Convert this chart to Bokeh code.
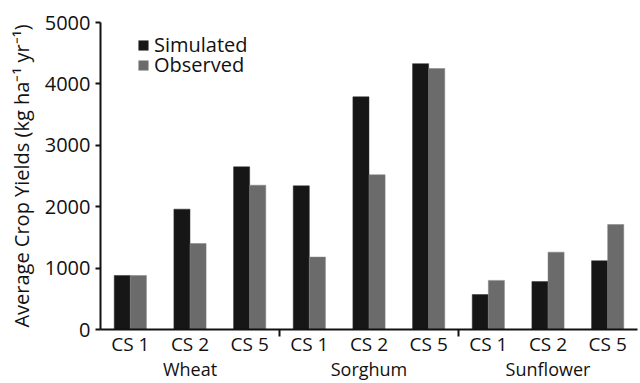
from bokeh.plotting import figure
from bokeh.models import Range1d, FixedTicker, LinearAxis, ColumnDataSource, Legend, LegendItem
from bokeh.transform import dodge
from bokeh.embed import file_html
from bokeh.resources import INLINE

crops = ["Wheat", "Sorghum", "Sunflower"]
systems = ["CS 1", "CS 2", "CS 5"]
simulated = [880, 1960, 2650, 2340, 3790, 4330, 570, 780, 1120]
observed = [880, 1400, 2350, 1180, 2520, 4250, 800, 1260, 1710]
y_ticks = [0, 1000, 2000, 3000, 4000, 5000]

labels = [s for c in crops for s in systems]
pos = [i + 0.5 for i in range(len(labels))]
group_pos = [i * len(systems) + len(systems) / 2 for i in range(len(crops))]
group_sep = [i * len(systems) for i in range(1, len(crops))]

src = ColumnDataSource(dict(x=pos, sim=simulated, obs=observed))

FONT = "Open Sans"
p = figure(width=640, height=383, output_backend="svg", toolbar_location=None,
           x_range=Range1d(0, len(labels)), y_range=Range1d(0, 5000),
           min_border_left=100, min_border_right=3, min_border_top=22, min_border_bottom=54,
           x_axis_location=None)
p.outline_line_color = None
p.grid.grid_line_color = None
p.background_fill_color = "white"
p.border_fill_color = "white"

r1 = p.vbar(x=dodge("x", -0.135, range=p.x_range), top="sim", width=0.27, source=src,
            fill_color="#161616", line_color="#303030", line_width=0.5)
r2 = p.vbar(x=dodge("x", 0.135, range=p.x_range), top="obs", width=0.27, source=src,
            fill_color="#6b6b6b", line_color="#858585", line_width=0.5)

# y axis
ya = p.yaxis[0]
ya.ticker = FixedTicker(ticks=y_ticks)
ya.axis_line_width = 2
ya.axis_line_color = "#111111"
ya.major_tick_line_width = 2
ya.major_tick_line_color = "#111111"
ya.major_tick_out = 5
ya.major_tick_in = 0
ya.minor_tick_line_color = None
ya.major_label_text_font = FONT
ya.major_label_text_font_size = "20px"
ya.major_label_text_color = "#111111"
ya.major_label_standoff = 5
ya.axis_label = "Average Crop Yields (kg ha\u207b\u00b9 yr\u207b\u00b9)"
ya.axis_label_text_font = FONT
ya.axis_label_text_font_size = "20px"
ya.axis_label_text_font_style = "normal"
ya.axis_label_text_color = "#111111"
ya.axis_label_standoff = 7

# x axis with sub labels
xa = LinearAxis(ticker=FixedTicker(ticks=pos, minor_ticks=group_sep),
                major_label_overrides={pos[i]: labels[i] for i in range(len(labels))})
xa.axis_line_width = 2
xa.axis_line_color = "#111111"
xa.major_tick_line_color = None
xa.major_tick_out = 0
xa.major_tick_in = 0
xa.minor_tick_out = 7
xa.minor_tick_in = 0
xa.minor_tick_line_width = 2
xa.minor_tick_line_color = "#111111"
xa.major_label_text_font = FONT
xa.major_label_text_font_size = "19px"
xa.major_label_text_color = "#111111"
xa.major_label_standoff = -6
p.add_layout(xa, "below")

ga = LinearAxis(ticker=FixedTicker(ticks=group_pos, minor_ticks=[]),
                major_label_overrides={group_pos[i]: crops[i] for i in range(len(crops))})
ga.axis_line_color = None
ga.major_tick_line_color = None
ga.major_tick_out = 0
ga.major_tick_in = 0
ga.minor_tick_line_color = None
ga.minor_tick_out = 0
ga.minor_tick_in = 0
ga.major_label_text_font = FONT
ga.major_label_text_font_size = "18px"
ga.major_label_text_color = "#111111"
ga.major_label_standoff = -3
p.add_layout(ga, "below")

common = dict(padding=0, margin=0, glyph_width=12, glyph_height=12, label_standoff=5,
              label_text_font=FONT, label_text_font_size="20px", label_text_color="#111111",
              border_line_color=None, background_fill_alpha=0)
legend1 = Legend(items=[LegendItem(label="Simulated", renderers=[r1])], location=(37, 271), **common)
legend2 = Legend(items=[LegendItem(label="Observed", renderers=[r2])], location=(37, 251), **common)
p.add_layout(legend1, "center")
p.add_layout(legend2, "center")

open("out.html", "w").write(file_html(p, INLINE))
